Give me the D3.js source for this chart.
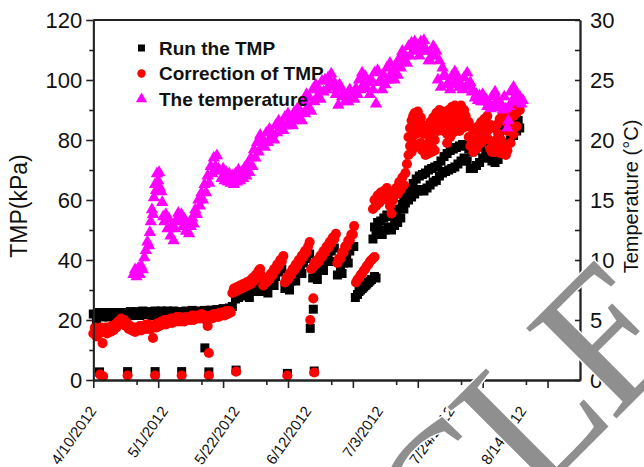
<!DOCTYPE html>
<html><head><meta charset="utf-8">
<script src="https://cdn.jsdelivr.net/npm/d3@7"></script>
<style>body{margin:0;background:#fff}svg{display:block}</style>
</head><body>
<svg id="chart" width="644" height="467"></svg>
<script>
// ---------- data (day offset from 4/10/2012, value) ----------
const startLabel = "4/10/2012";
const endLabel = "9/14/2012";
const majorTickLabels = ["4/10/2012","5/1/2012","5/22/2012","6/12/2012","7/3/2012","7/24/2012","8/14/2012","9/4/2012"];
const minorTickLabels = ["4/24/2012","5/15/2012","6/5/2012","6/26/2012","7/17/2012","8/7/2012","8/28/2012"];
const shownDateLabels = ["4/10/2012","5/1/2012","5/22/2012","6/12/2012","7/3/2012","7/24/2012","8/14/2012"];
const leftTicks = [0,20,40,60,80,100,120];
const leftMinor = [10,30,50,70,90,110];
const rightTicks = [0,5,10,15,20,25,30];
const rightMinor = [2.5,7.5,12.5,17.5,22.5,27.5];
const seriesNames = ["Run the TMP","Correction of TMP","The temperature"];

const runTMP = [
[0,22],[1,19.5],[2,22.5],[3,21],[4,22.5],[5,21],[6,22.5],[7,21.5],[8,22.5],[9,21],[10,22.5],[11,21.5],[12,22.8],[13,21.5],[14,22.8],[15,21.5],[16,23],[17,21.8],[18,22.8],[19,21.5],[20,23],[21,21.8],[22,23],[23,21.8],[24,23],[25,22],[26,23],[27,22],[28,22.8],[29,22],[30,23],[31,22],[32,23.2],[33,22.2],[34,23],[35,22],[36,23.2],[37,22.3],[38,23.3],[39,22.5],[40,23.5],[41,22.6],[42,23.8],[43,22.8],[44,24],[45,24.5],
[36.1,10.7],
[2,2.7],[11.1,2.8],[20,2.8],[28.6,2.8],[37.4,2.7],[46.2,3.3],[62.8,2.2],[71.5,3],
[46,27],[47,27.5],[48,28],[49,28.5],[50,29],[51,30],[52,31],[53,32],[54,33],[55,29.5],[56,30.5],[57,31.5],[58,33],[59,34.5],[60,36],[61,37],[62,30.5],[63,31.5],[64,33],[65,34.5],[66,36],[67,37.5],[68,39],[69,40.5],[70,42],[71,34],[72,35.5],[73,37],[74,38.5],[75,40],[76,41.5],[77,43],[78,44],[79,35],[80,37],[81,39],[82,41],[83,43],[84.3,44.5],
[50.5,27.5],[52.5,29.5],[56.5,29],[58.5,31.5],[63.5,30],[65.5,33],[67.5,35.5],[72.5,33.5],[74.5,36.5],[76.5,39.5],[80.5,35.5],[82.5,39],
[71.2,23.6],[70.2,17.2],
[84.8,27.5],[85.5,28.5],[86,29.5],[86.5,30],[87,30.5],[87.5,31],[88,31.5],[88.5,32],[89,32.5],[89.5,33],[90,33.5],[91,34.5],[91.5,34],
[90.5,47],[91.5,48.5],[92.5,49.5],[93.5,48.5],[94.5,50],[95.5,51],[96.5,50],[97.5,51.5],[98.5,52.5],[99.5,54],[100.5,57],[101,59],[102,60],[103,61],[104,62],[105,63],[106,63.5],[107,63],[108,64],[109,65],[110,66],[111,66.5],[112,68],[113,69],[114,69.5],[115,70],[116,70.5],[117,71],[118,72],[119,73],[120,74],[121,73],[122,70.5],[123,70.5],[124,71.5],[125,72.5],[126,74],[127,75.5],[128,74],[129,73],[130,72.5],[131,73.5],[132,76],[133,79],[134,79],[135,80],[136,81.5],[137,83],[138,84],
[91,51],[92,52.5],[93,53],[94,54],[95,55],[96,54.5],[97,55.5],[98,56],[99,57],[100,58.5],[100.5,61],[101.5,62],[102.5,64],[103.5,65.5],[104.5,67],[105.5,68],[106.5,68.5],[107.5,69],[108.5,70],[109.5,70.5],[110.5,71],[111.5,71.5],[112.5,73],[113.5,74.5],[114.5,75.5],[115.5,76.5],[116.5,77],[117.5,77.5],[118.5,78],[119.5,78.5],[120.5,78],[121.5,77],[122.5,76],[123.5,76.5],[124.5,77.5],[125.5,78.5],[126.5,79.5],[127.5,80],[128.5,79],[129.5,78],[130.5,79],[131.5,82],[132.5,84.5],[133.5,85.5],[134.5,84.5],[135.5,85],[136.5,86],[137.5,86.5]
];

const corrTMP = [
[0,15.5],[0.5,17.5],[1,14.5],[1.5,16.5],[2,15.5],[2.5,17.5],[3,12.3],[3.5,16],[4,17.5],[4.5,15.5],[5,17.5],[5.5,16],[6,18],[6.5,16.5],[7,18.5],[7.5,17.5],[8,19.5],[8.5,18.5],[9,20.5],[9.5,19],[10,20],[10.5,18],[11,19],[11.5,17],[12,18],[12.5,16.5],[13,17.5],[13.5,16],[14,17.5],[14.5,16.5],[15,18],[15.5,16.5],[16,18],[16.5,17],[17,18.5],[17.5,17],[18,18.5],[18.5,17],[19,18],[19.3,14],[19.7,17.5],[20,18.5],[20.5,17.5],[21,19],[21.5,18],[22,19.5],[22.5,18.5],[23,20],[23.5,18.5],[24,20],[24.5,19],[25,20.5],[25.5,19],[26,20.5],[26.5,19.5],[27,21],[27.5,19.5],[28,21],[28.5,19.5],[29,20.5],[29.5,19.5],[30,21],[30.5,20],[31,21],[31.5,20],[32,21.5],[32.5,20],[33,21.5],[33.5,20.5],[34,21.5],[34.5,20.5],[35,22],[35.5,20.5],[36,21.5],[36.5,20],[37,18],[37.5,20.5],[38,21.5],[38.5,20.5],[39,22],[39.5,21],[40,22],[40.5,21],[41,22.5],[41.5,21.5],[42,22.5],[42.5,21.5],[43,23],[43.5,22],[44,23],[44.5,22.5],
[37.4,9],
[2.2,1.8],[3.2,1.2],[11.1,1.5],[20,1.5],[28.6,1.5],[37.4,1.5],[46.2,2.8],[62.8,1.5],[71.5,2.5],
[45,29],[45.5,30.5],[46,29.5],[46.5,31],[47,30],[47.5,31.5],[48,30.5],[48.5,32],[49,31],[49.5,32.5],[50,31.5],[50.5,33],[51,32],[51.5,34],[52,33],[52.5,35],[53,34],[53.5,36.5],[54,37],[54.3,35],
[55,31.5],[55.5,33],[56,32.5],[56.5,34],[57,33.5],[57.5,35.5],[58,35],[58.5,37],[59,36.5],[59.5,38.5],[60,38],[60.5,40],[61,39.5],[61.5,41.3],
[62,32.5],[62.5,34],[63,33.5],[63.5,35.5],[64,35],[64.5,37],[65,36.5],[65.5,38.5],[66,38],[66.5,40],[67,39.5],[67.5,41.5],[68,41],[68.5,43],[69,42.5],[69.5,44.5],[70,46],
[70.5,37],[71,37.5],[71.5,39],[72,38.5],[72.5,40],[73,39.5],[73.5,41.5],[74,41],[74.5,43],[75,42.5],[75.5,44.5],[76,44],[76.5,46],[77,45.5],[77.5,47.5],[78,47],[78.5,48.7],
[79,39],[79.5,40.5],[80,40.5],[80.5,42.5],[81,42.5],[81.5,44.5],[82,44.5],[82.5,46.5],[83,46.5],[83.5,48.5],[84,48.5],[84.4,51.3],
[71.2,27.2],[70.2,20],
[85,32.5],[85.5,33.5],[86,34],[86.5,35],[87,35.5],[87.5,36.5],[88,37],[88.5,38],[89,38.5],[89.5,39.5],[90,40],[90.5,40.5],[91,41],
[90.5,57],[91,60],[91.5,58],[92,61.5],[92.5,59],[93,62.5],[93.5,60],[94,63],[94.5,60.5],[95,64],[95.5,61],[96,58],[96.5,55.5],[97,60],[97.5,62.5],[98,64],[98.5,62],[99,66],[99.5,63.5],[100,67.5],[100.5,65],[101,69],[101.5,72],[102,75],[102.5,78],[103,80],[103.5,82],[104,84],[104.5,82],[105,86],[105.5,84],[106,87.5],[106.5,85],[107,82],[107.5,78],[108,76],[108.5,79],[109,81],[109.5,78],[110,83],[110.5,80],[111,85],[111.5,83],[112,87],[112.5,84],[113,86],[113.5,83],[114,85],[114.5,82],[115,87],[115.5,85],[116,88.5],[116.5,86],[117,89.5],[117.5,87],[118,88],[118.5,86],[119,89],[119.5,87],[120,90],[120.5,88],[121,85],[121.5,81],[122,78],[122.5,80],[123,76],[123.5,79],[124,77],[124.5,80],[125,82],[125.5,79],[126,84],[126.5,81],[127,86],[127.5,83],[128,80],[128.5,77],[129,76],[129.5,79],[130,76],[130.5,80],[131,82],[131.5,78],[132,80],[132.5,76],[133,78],[133.5,75],[134,83],[134.5,87],[135,85],[135.5,89],[136,88],[136.5,90],[137,89],[137.5,91],[138,90],
[102,81],[102.5,84],[103,86.5],[103.5,88],[104,89],[104.5,87.5],[105,89.5],[103,76],[104,77.5],[105,78.5],[106,79],[106.5,76.5],[107.5,75],[108.5,75.5],[109.5,76],[110.5,76.5],[108,84],[109,86],[110,87.5],[111,89],[112,90],[113,89.5],[114,88.5],[115,90],[116,91],[117,91.5],[118,90.5],[119,91.5],[114.5,79],[115.5,81],[116.5,82.5],[117.5,83.5],[118.5,83],[119.5,84],[120.5,84.5],[121.5,86],[122.5,84],[123.5,83],[124.5,84.5],[125.5,86],[126.5,87],[127.5,88],[128.5,85],[129.5,84],[130.5,85],[131.5,87],[132.5,88.5],[133.5,86],[130,78],[131,76],[132,75.5],[134,76.5],[135,79],[136,82],[137,84.5],[136,91],[137,92]
];

const temperature = [
[13,8.8],[13.5,9.2],[14,8.6],[14.5,9.3],[15,8.8],[15.5,9.5],[16,9.2],[16.5,10.2],[17,10.8],[17.5,11.5],[18,11.2],[18.3,12.3],[18.6,13.2],[19,14.2],[19.3,13.8],[19.6,15.2],[20,16.3],[20.3,15.8],[20.6,17.2],[21,16.6],[21.3,17.3],[21.6,16],[22,15.7],[22.3,14.8],[22.6,13.6],[23,13.2],[23.5,13.8],[24,12.6],[24.5,13.4],[25,12],[25.5,12.8],[26,11.6],[26.5,12.6],[27,13.4],[27.5,13.9],[28,13.2],[28.5,13.8],[29,12.8],[29.5,13.4],[30,12.4],[30.5,13],[31,12.2],[31.5,12.8],[32,13.5],[32.5,13],[33,14.2],[33.5,13.8],[34,15],[34.5,14.5],[35,15.6],[35.5,15],[36,16.3],[36.5,15.6],[37,17],[37.5,16.4],[38,17.8],[38.5,17.2],[39,18.5],[39.5,17.8],[40,18.7],[40.5,17.6],[41,17.4],[41.5,16.8],[42,17.6],[42.5,16.6],[43,17.3],[43.5,16.5],[44,17.2],[44.5,16.4],[45,17],[45.5,16.3],[46,17.2],[46.5,16.5],[47,17.5],[47.5,16.6],[48,17.3],[48.5,16.8],[49,17.7],[49.5,17],[50,18],[50.5,17.3],[51,18.5],[51.5,17.8],[52,19.2],[52.5,18.5],[53,19.8],[53.5,19],[54,20.4],[54.5,19.5],[55,20],[55.5,19.4],[56,20.6],[56.5,19.8],[57,20.9],[57.5,20.2],[58,20.5],[58.5,20],[59,21.2],[59.5,20.6],[60,21.6],[60.5,21],[61,21.4],[61.5,20.8],[62,21.9],[62.5,21.2],[63,22.2],[63.5,21.4],[64,21.8],[64.5,21.2],[65,22.3],[65.5,21.6],[66,22.6],[66.5,21.8],[67,22.4],[67.5,21.6],[68,23.2],[68.5,22.2],[69,23.8],[69.5,22.8],[70,23.5],[70.5,22.4],[71,24.2],[71.5,23.2],[72,24.6],[72.5,23.6],[73,24.2],[73.5,23.4],[74,24.9],[74.5,24],[75,25],[75.5,24.2],[76,25.2],[76.5,24.4],[77,25.5],[77.5,24.6],[78,24.8],[78.5,23.8],[79,24.2],[79.3,22.9],[79.7,24.6],[80,24.4],[80.5,23.6],[81,23.8],[81.5,23.2],[82,23.6],[82.5,23.2],[83,24.2],[83.5,23.5],[84,23.8],[84.5,23.4],[85,24.3],[85.5,23.8],[86,25],[86.5,24.2],[87,25.6],[87.5,24.6],[88,25.3],[88.5,24.3],[89,24.8],[89.5,23.8],[90,25],[90.5,24.2],[91,25.6],[91.5,23],[92,25.8],[92.5,24.8],[93,25],[93.5,24.2],[94,25.4],[94.5,24.6],[95,26],[95.5,25],[96,26.4],[96.5,25.4],[97,25.8],[97.5,25],[98,26.2],[98.5,25.4],[99,26.8],[99.5,26],[100,27.4],[100.5,26.6],[101,27],[101.5,26.4],[102,27.8],[102.5,27],[103,28.1],[103.5,27.4],[104,28.2],[104.5,27.5],[105,27.6],[105.5,27],[106,28.2],[106.5,27.6],[107,28.3],[107.5,27.4],[108,27.4],[108.5,26.6],[109,26.6],[109.5,27],[110,27.8],[110.5,27],[111,27.4],[111.5,25],[112,26.6],[112.5,24.4],[113,26],[113.5,25.4],[114,25.3],[114.5,24.6],[115,24.8],[115.5,24.2],[116,25.3],[116.5,24.6],[117,25.7],[117.5,24.8],[118,25.2],[118.5,24.4],[119,24.6],[119.5,24.2],[120,25.2],[120.5,24.4],[121,25.6],[121.5,24.6],[122,24.8],[122.5,24],[123,24.1],[123.5,23.5],[124,23.8],[124.5,23.3],[125,23.7],[125.5,23.2],[126,23.8],[126.5,23.2],[127,23.4],[127.5,22.8],[128,23.1],[128.5,22.6],[129,23.6],[129.5,22.8],[130,24],[130.5,23.2],[131,23.3],[131.5,22.7],[132,23],[132.5,22.5],[133,23.6],[133.5,22.6],[134,21],[134.3,21.6],[134.6,22.8],[135,24],[135.5,23.2],[136,24.4],[136.5,23.6],[137,23.9],[137.5,23.2],[138,23.6],[138.5,23],[139,23.3]
];

// ---------- layout ----------
const W = 644, H = 467;
const M = {left: 93.3, right: 580, top: 20, bottom: 380};
const FONT = "'Liberation Sans', Arial, sans-serif";
const AX = "#222";

const parse = d3.utcParse("%m/%d/%Y");
const t0 = parse(startLabel);
const toDate = d => new Date(t0.getTime() + d * 864e5);

const x = d3.scaleUtc().domain([t0, d3.utcHour.offset(parse(endLabel), 12)]).range([M.left, M.right]);
const yL = d3.scaleLinear().domain([0, 120]).range([M.bottom, M.top]);
const yR = d3.scaleLinear().domain([0, 30]).range([M.bottom, M.top]);

const svg = d3.select("#chart");
svg.append("rect").attr("width", W).attr("height", H).attr("fill", "#fff");

// data
const plot = svg.append("g");
function drawSeries(data, type, size, color, yScale) {
  plot.append("g").selectAll("path").data(data).join("path")
    .attr("d", d3.symbol(type, size))
    .attr("transform", d => `translate(${x(toDate(d[0]))},${yScale(d[1])})`)
    .attr("fill", color);
}
drawSeries(runTMP, d3.symbolSquare, 81, "#000", yL);
drawSeries(corrTMP, d3.symbolCircle, 80, "#ff0000", yL);
drawSeries(temperature, d3.symbolTriangle, 66, "#ff00ff", yR);

// axes
function styleAxis(g) {
  g.select(".domain").attr("stroke", AX).attr("stroke-width", 1.8);
  g.selectAll(".tick line").attr("stroke", AX).attr("stroke-width", 1.6);
  g.selectAll("text").attr("font-family", FONT).attr("font-size", 22).attr("fill", "#111");
}
svg.append("g").attr("transform", `translate(0,${M.bottom})`)
  .call(d3.axisBottom(x).tickValues(minorTickLabels.map(parse)).tickSize(5).tickSizeOuter(0).tickFormat(""))
  .call(styleAxis);
svg.append("g").attr("transform", `translate(0,${M.bottom})`)
  .call(d3.axisBottom(x).tickValues(majorTickLabels.map(parse)).tickSize(8).tickSizeOuter(0).tickFormat(""))
  .call(styleAxis);
// date labels (placed by their own point scale, as in the reference)
const labelX = d3.scalePoint().domain(shownDateLabels).range([97, 527]);
svg.append("g").selectAll("text").data(shownDateLabels).join("text")
  .attr("transform", d => `translate(${labelX(d)},${M.bottom + 31}) rotate(-55)`)
  .attr("text-anchor", "end")
  .attr("font-family", FONT).attr("font-size", 15).attr("fill", "#111")
  .text(d => d);

svg.append("g").attr("transform", `translate(${M.left},0)`)
  .call(d3.axisLeft(yL).tickValues(leftMinor).tickSize(4).tickSizeOuter(0).tickFormat(""))
  .call(styleAxis);
svg.append("g").attr("transform", `translate(${M.left},0)`)
  .call(d3.axisLeft(yL).tickValues(leftTicks).tickSize(7).tickSizeOuter(0).tickPadding(4))
  .call(styleAxis);
svg.append("g").attr("transform", `translate(${M.right},0)`)
  .call(d3.axisRight(yR).tickValues(rightMinor).tickSize(-5).tickSizeOuter(0).tickFormat(""))
  .call(styleAxis);
svg.append("g").attr("transform", `translate(${M.right},0)`)
  .call(d3.axisRight(yR).tickValues(rightTicks).tickSize(-5).tickSizeOuter(0).tickPadding(10))
  .call(styleAxis);
svg.append("line").attr("x1", M.left).attr("x2", M.right).attr("y1", M.top).attr("y2", M.top)
  .attr("stroke", AX).attr("stroke-width", 1.8);

// axis titles
svg.append("text").attr("transform", `translate(27,206) rotate(-90)`)
  .attr("text-anchor", "middle").attr("font-family", FONT).attr("font-size", 23).attr("fill", "#111")
  .text("TMP(kPa)");
svg.append("text").attr("transform", `translate(638,196.5) rotate(-90)`)
  .attr("text-anchor", "middle").attr("font-family", FONT).attr("font-size", 20).attr("fill", "#111")
  .text("Temperature (°C)");

// legend
const legendY = d3.scalePoint().domain(seriesNames).range([48, 99]);
const legendSym = [[d3.symbolSquare, 49, "#000"], [d3.symbolCircle, 55, "#ff0000"], [d3.symbolTriangle, 55, "#ff00ff"]];
const lg = svg.append("g");
seriesNames.forEach((n, i) => {
  lg.append("path").attr("d", d3.symbol(legendSym[i][0], legendSym[i][1]))
    .attr("transform", `translate(141.5,${legendY(n)})`).attr("fill", legendSym[i][2]);
  lg.append("text").attr("x", 159).attr("y", legendY(n)).attr("dy", "0.36em")
    .attr("font-family", FONT).attr("font-size", 19).attr("font-weight", "bold").attr("fill", "#111")
    .text(n);
});

// watermark
svg.append("text").attr("transform", "translate(691,344) rotate(-45)")
  .attr("text-anchor", "end").attr("font-family", "'Liberation Serif', 'DejaVu Serif', serif")
  .attr("font-size", 195).attr("letter-spacing", -8)
  .attr("fill", "#8f8f8f").attr("stroke", "#fff").attr("stroke-width", 3)
  .attr("paint-order", "stroke")
  .text("ARTICLE");
</script>
</body></html>
